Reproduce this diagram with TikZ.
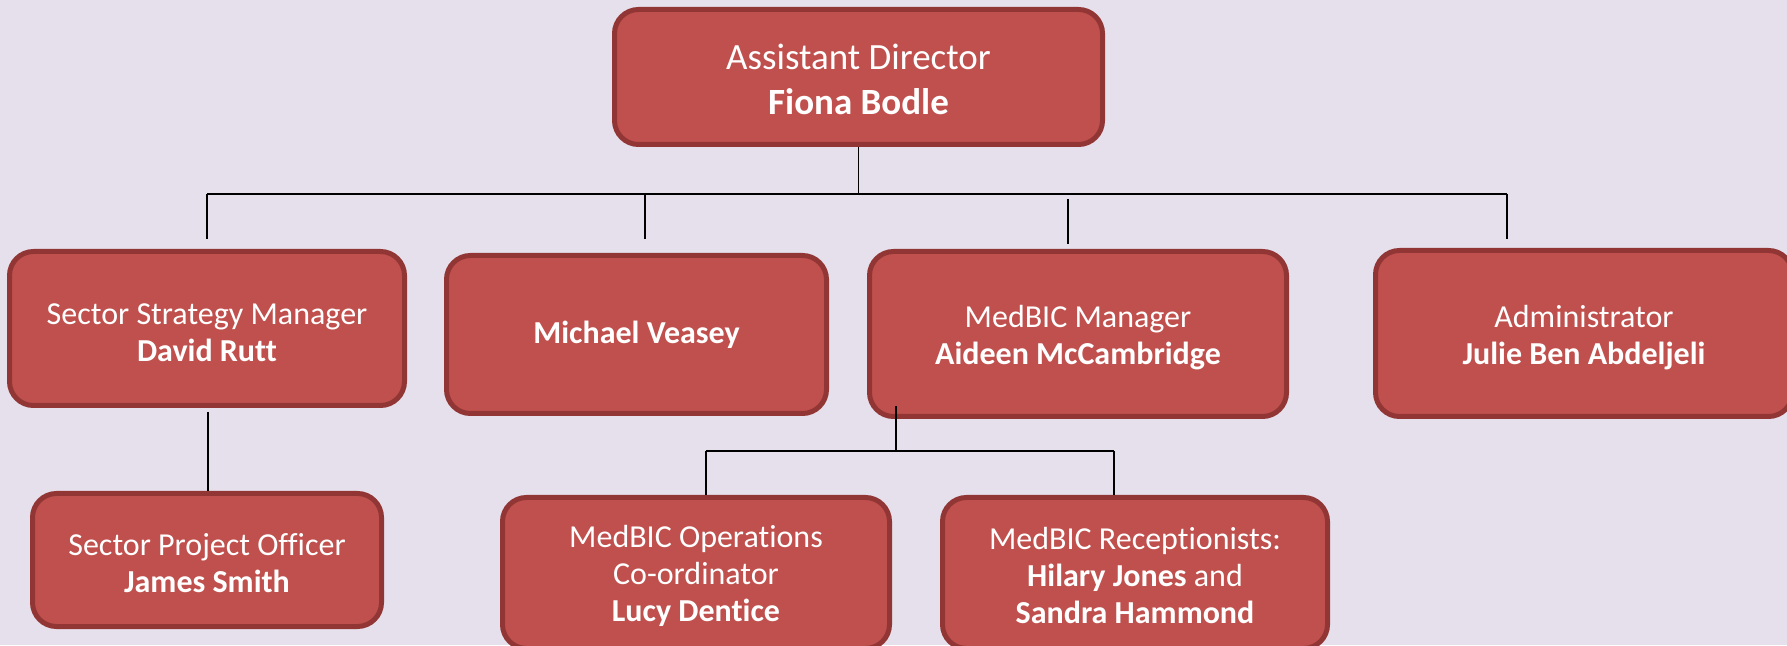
\documentclass[tikz,border=0pt]{standalone}
\usepackage{fontspec}
\setmainfont{Carlito}[Ligatures=NoCommon]
\usepackage{tikz}
\usetikzlibrary{positioning}
\definecolor{lavender}{RGB}{229,224,236}
\definecolor{boxred}{RGB}{192,80,77}
\definecolor{boxedge}{RGB}{145,54,52}

\tikzset{
	box/.style={draw=boxedge, fill=boxred, line width=5pt, rounded corners=24pt,
		text=white, align=center, inner sep=0pt,
		font=\fontsize{32}{37}\selectfont},
	headbox/.style={box, font=\fontsize{37}{45}\selectfont},
	link/.style={draw=black, line width=1.6pt}
}

\begin{document}
\begin{tikzpicture}[x=1pt, y=1pt]
		\useasboundingbox (0,0) rectangle (1787,645);
		\fill[lavender] (0,0) rectangle (1787,645);
		\clip (0,0) rectangle (1787,645);
		
		% boxes:
		\node[headbox, minimum width=488, minimum height=135] (director) at (858.5,568) {\rule{0pt}{30pt}Assistant Director\\\textbf{Fiona Bodle}};
		\node[box, minimum width=395, minimum height=154] (strategy) at (207,316.5) {\rule{0pt}{29pt}Sector Strategy Manager\\\textbf{David Rutt}};
		\node[box, minimum width=380, minimum height=158] (veasey) at (636.5,310.5) {\textbf{Michael Veasey}};
		\node[box, minimum width=417, minimum height=165] (medbic) at (1078,311) {\rule{0pt}{30pt}MedBIC Manager\\\textbf{Aideen McCambridge}};
		\node[box, minimum width=417, minimum height=166] (admin) at (1584,311.5) {\rule{0pt}{30pt}Administrator\\\textbf{Julie Ben Abdeljeli}};
		\node[box, minimum width=349, minimum height=133] (project) at (207,85) {\rule{0pt}{29pt}Sector Project Officer\\\textbf{James Smith}};
		\node[box, minimum width=387, minimum height=151] (operations) at (696,72) {\rule{0pt}{28pt}MedBIC Operations\\Co-ordinator\\\textbf{Lucy Dentice}};
		\node[box, minimum width=385, minimum height=151] (reception) at (1135,72) {\rule{0pt}{28pt}MedBIC Receptionists:\\\textbf{Hilary Jones} and\\\textbf{Sandra Hammond}};
		
		% top bus
		\coordinate (busL) at (207,451);
		\coordinate (busR) at (1507,451);
		\draw[link] (director.south) -- (director.south |- busL);
		\draw[link] (busL) -- (busR);
		\foreach \n/\x/\y in {a/207/451, b/645/451, c/1068/446, d/1507/451}{
			\coordinate (drop\n) at (\x,\y);
			\draw[link] (drop\n) -- ++(0,-45);
		}
		
		% strategy -> project
		\coordinate (stem) at (208,233);
		\draw[link] (stem) -- (stem |- project.north);
		
		% medbic bus
		\coordinate (subtop) at (896,239);
		\coordinate (subL) at (706,194);
		\coordinate (subR) at (1114,194);
		\draw[link] (subtop) -- (subtop |- subL);
		\draw[link] (subL) -- (subR);
		\draw[link] (subL) -- (subL |- operations.north);
		\draw[link] (subR) -- (subR |- reception.north);
\end{tikzpicture}
\end{document}
